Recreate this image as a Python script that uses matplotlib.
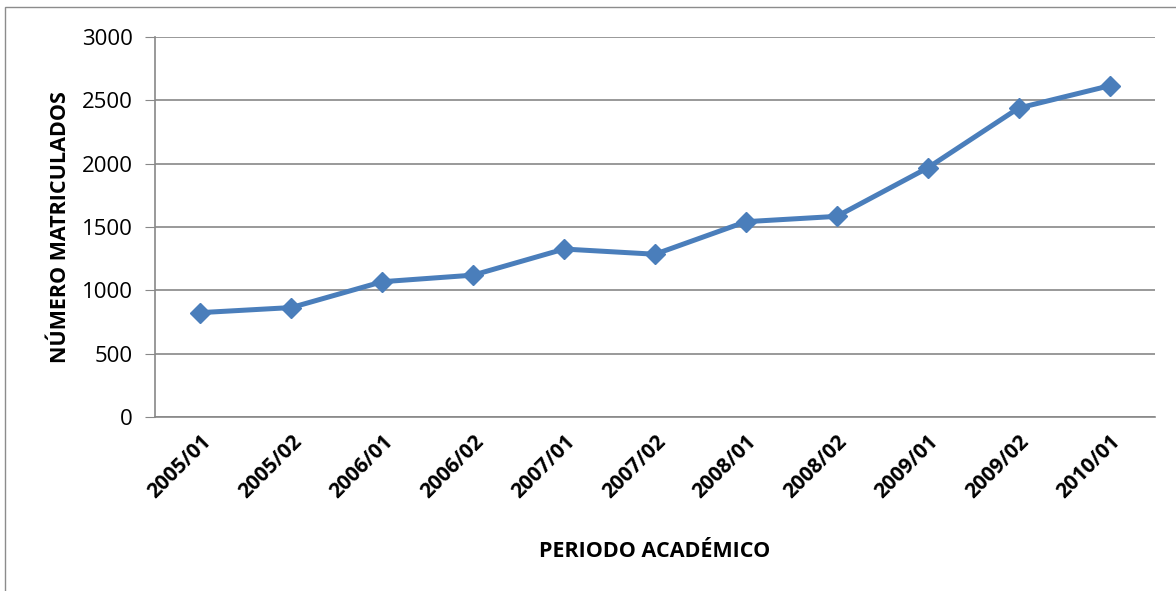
import matplotlib.pyplot as plt
from matplotlib.patches import Rectangle

# Datos
periodos = ["2005/01", "2005/02", "2006/01", "2006/02", "2007/01", "2007/02",
            "2008/01", "2008/02", "2009/01", "2009/02", "2010/01"]
matriculados = [824, 864, 1068, 1120, 1326, 1285, 1542, 1584, 1967, 2439, 2615]
y_ticks = [0, 500, 1000, 1500, 2000, 2500, 3000]

plt.rcParams['font.family'] = ['Open Sans', 'DejaVu Sans']

fig = plt.figure(figsize=(11.76, 5.91), dpi=100)
ax = fig.add_axes([155 / 1176, 1 - 417 / 591, (1155 - 155) / 1176, (417 - 37) / 591])

# Marco del gráfico
fig.patches.append(Rectangle((5 / 1176, -0.01), 1.2, 1 - 7 / 591 + 0.01, transform=fig.transFigure,
                             fill=False, edgecolor='#8c8c8c', linewidth=1))

x = list(range(len(periodos)))
ax.plot(x, matriculados, color='#4a7ebb', linewidth=3.6, marker='D', markersize=10,
        markeredgecolor='#4a7ebb', markerfacecolor='#4a7ebb', zorder=3)

ax.set_xlim(-0.5, len(periodos) - 0.5)
ax.set_ylim(0, 3000)
ax.set_yticks(y_ticks)
ax.yaxis.grid(True, color='#888888', linewidth=1.2)
ax.set_axisbelow(True)

for s in ['top', 'right']:
    ax.spines[s].set_visible(False)
ax.spines['left'].set_color('#888888')
ax.spines['bottom'].set_color('#888888')
ax.spines['left'].set_linewidth(1.2)
ax.spines['bottom'].set_linewidth(1.2)

ax.tick_params(axis='y', length=7, color='#888888', labelsize=16, pad=9)
ax.tick_params(axis='x', length=0, pad=10)
ax.set_xticks(x)
ax.set_xticklabels(periodos, rotation=45, ha='right', rotation_mode='anchor',
                   fontsize=15, fontweight='bold')

ax.set_xlabel('PERIODO ACADÉMICO', fontsize=15.5, fontweight='bold', labelpad=28)
ax.set_ylabel('NÚMERO MATRICULADOS', fontsize=15.5, fontweight='bold', labelpad=8)

fig.savefig('out.png', dpi=100)
